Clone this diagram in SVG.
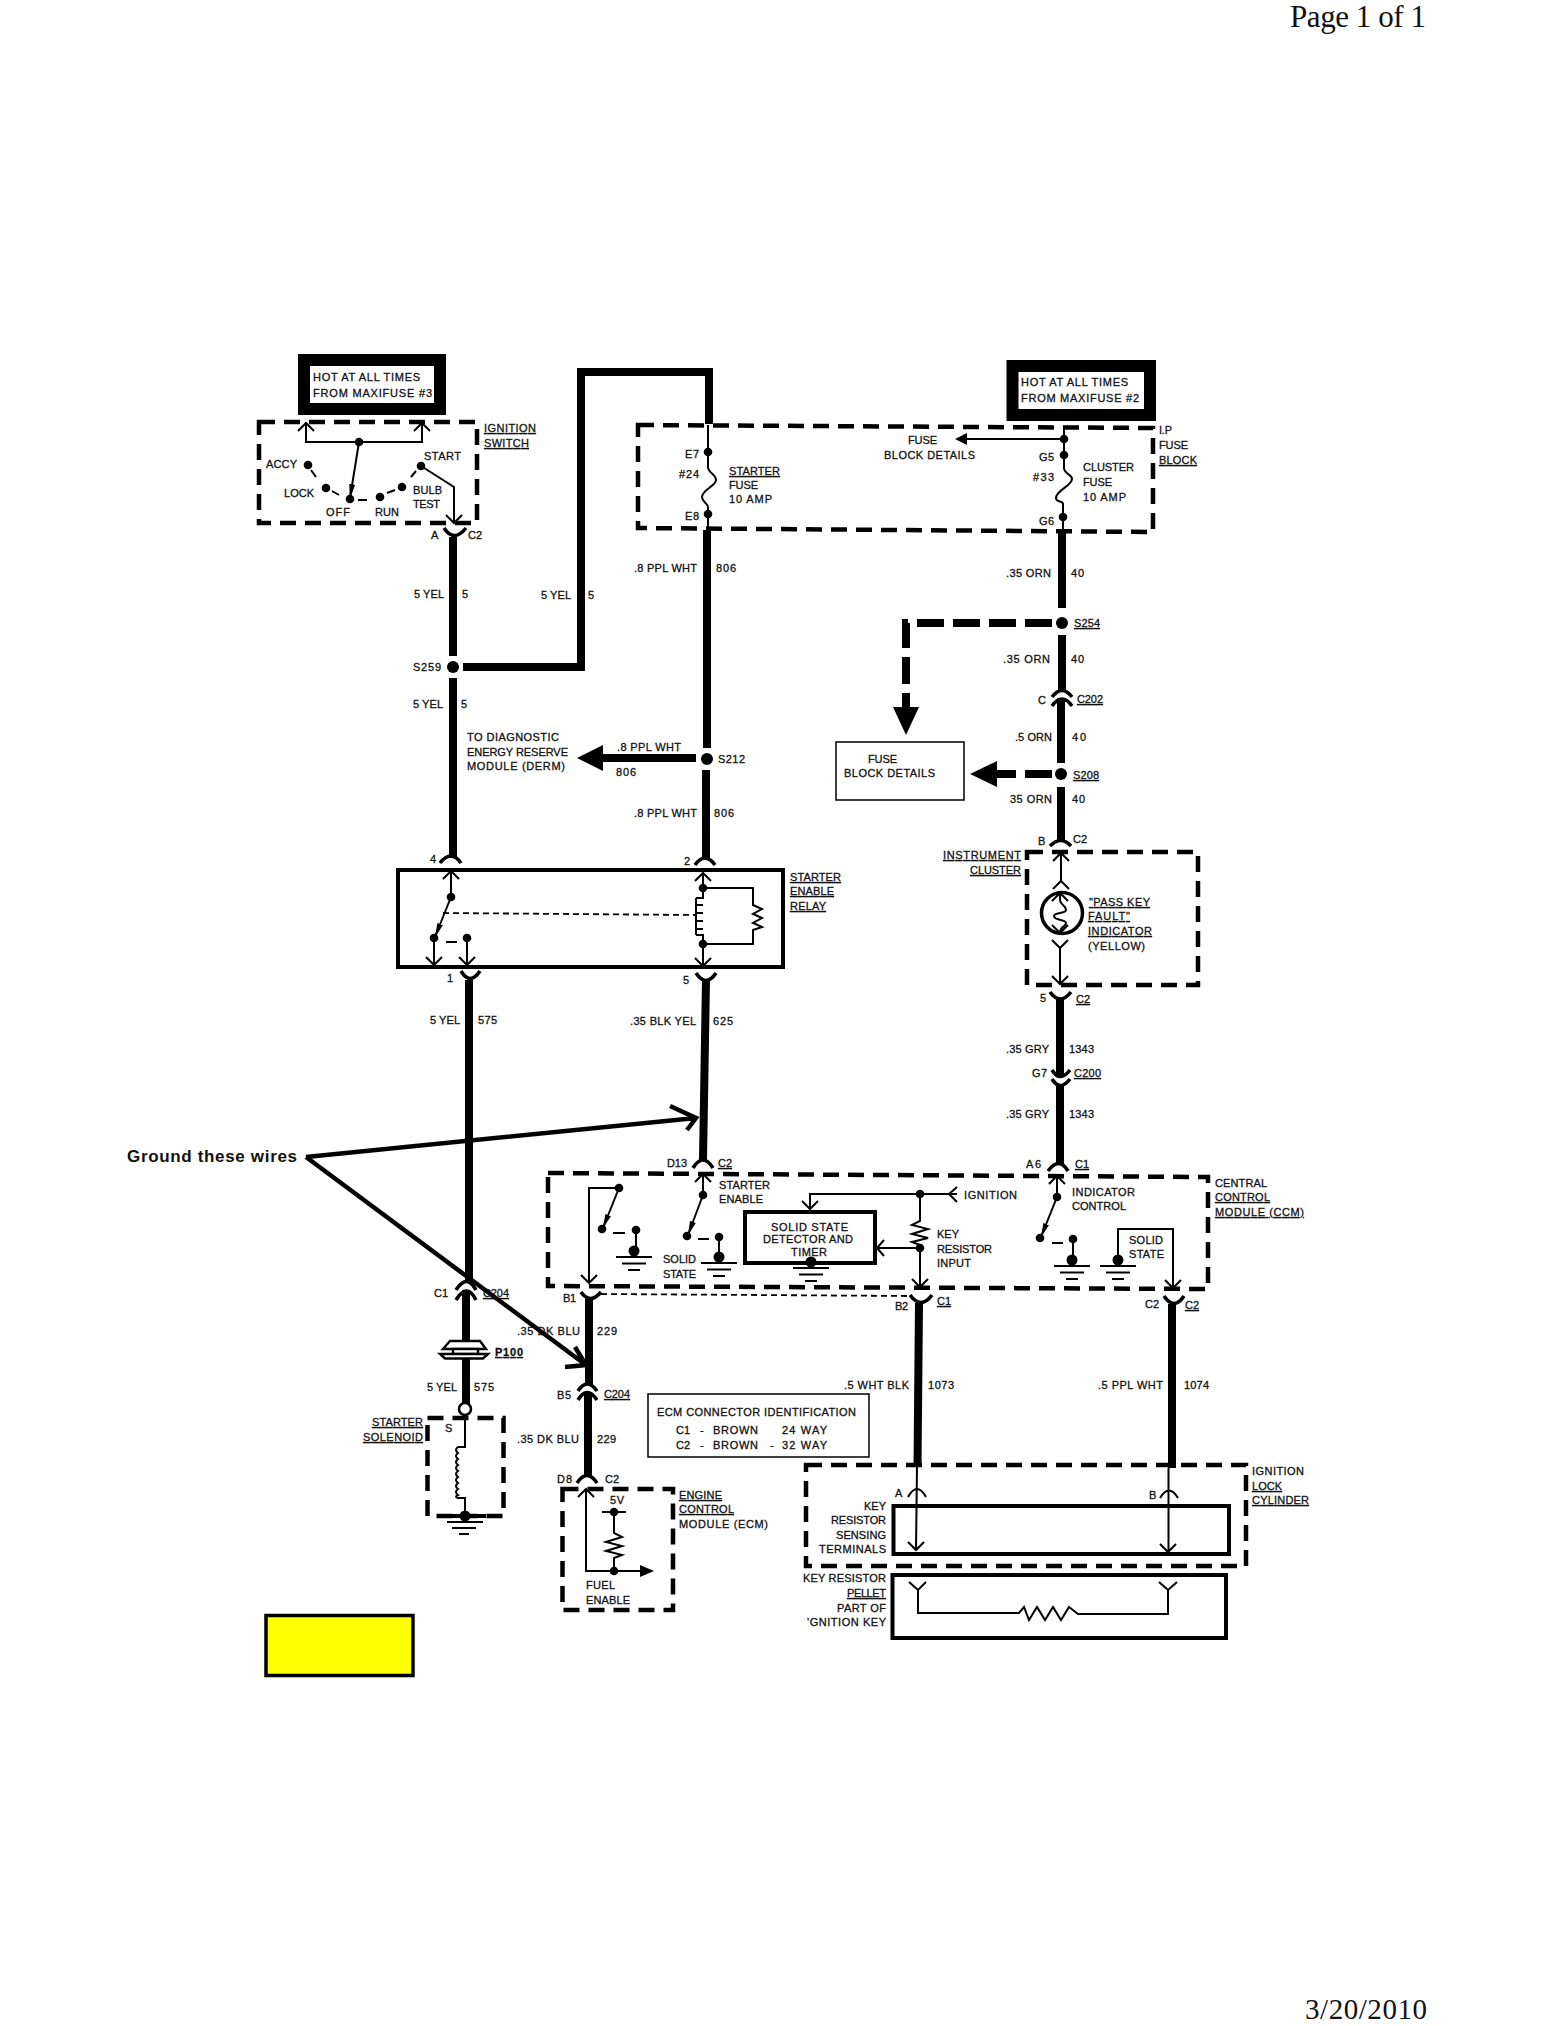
<svg xmlns="http://www.w3.org/2000/svg" xmlns:xlink="http://www.w3.org/1999/xlink" width="1567" height="2026" viewBox="0 0 1567 2026">
<style>
text{font-family:"Liberation Sans",Arial,sans-serif;font-size:11px;fill:#111;stroke:#111;stroke-width:.3}
.u{text-decoration:underline}
.times{font-family:"Liberation Serif","Times New Roman",serif;stroke:none}
.w,.t,.d,.c,.h,.a,.dt{fill:none;stroke:#000}
.w{stroke-width:8}
.t{stroke-width:2}
.d{stroke-width:4.5;stroke-dasharray:16 9}
.dt{stroke-width:1.8;stroke-dasharray:6 4}
.h{stroke-width:8;stroke-dasharray:27 9}
.c{stroke-width:3.6}
.a{stroke-width:4.5}
.box{fill:none;stroke:#000;stroke-width:4}
.hot{fill:#fff;stroke:#000;stroke-width:12}
.f{fill:#000;stroke:none}
.p{fill:#fff;stroke:#000;stroke-width:2.4}
</style>
<defs>
<path id="up" class="t" d="M-8 8L0 0L8 8"/>
<path id="dn" class="t" d="M-8 -8L0 0L8 -8"/>
<circle id="dot" class="f" r="4.3"/>
<g id="gnd"><circle class="f" cy="-6" r="5.500"/><path class="t" d="M-18 0H18M-12 6.500H12M-6 13H6"/></g>
<marker id="sw" markerUnits="userSpaceOnUse" markerWidth="16" markerHeight="12" refX="14" refY="5" orient="auto"><path class="f" d="M0 2L15 5L0 8Z"/></marker>
</defs>

<g id="header">
<text class="times" x="1290" y="27" style="font-size:31px" textLength="136">Page 1 of 1</text>
<text class="times" x="1305" y="2019" style="font-size:29px" textLength="122">3/20/2010</text>
</g>

<g id="connectors">
<path class="w" d="M453 537V656"/>
<path class="w" d="M453 678V858"/>
<path class="w" d="M463 667H581V372H709V424"/>
<path class="w" d="M707 530V748"/>
<path class="w" d="M706 770V858"/>
<path class="w" d="M696 758H600"/>
<path class="f" d="M577 758L603 745V771Z"/>
<path class="w" d="M1062 530V608"/>
<path class="w" d="M1062 635V692"/>
<path class="w" d="M1061 698V763"/>
<path class="w" d="M1061 787V842"/>
<path class="h" d="M1052 623H906V707"/>
<path class="f" d="M893 707H919L906 735Z"/>
<path class="h" d="M1052 774H995"/>
<path class="f" d="M970 774L997 761V787Z"/>
<path class="w" d="M469 980V1280"/>
<path class="w" d="M466 1290V1340"/>
<path class="w" d="M466 1358V1405"/>
<path class="w" d="M706 980L703 1160"/>
<path class="w" d="M1060 1000V1075"/>
<path class="w" d="M1060 1084V1164"/>
<path class="w" d="M589 1299V1385"/>
<path class="w" d="M588 1393V1476"/>
<path class="w" d="M919 1303L917.500 1466"/>
<path class="w" d="M1172 1304V1468"/>
<path class="dt" d="M601 1294L910 1296"/>
<path class="c" d="M444 528Q454 543 466 528"/>
<path class="c" d="M440 863Q451 849 461 863"/>
<path class="c" d="M695 865Q705 851 715 865"/>
<path class="c" d="M461 971Q470 986 480 971"/>
<path class="c" d="M696 973Q706 988 716 973"/>
<path class="c" d="M693 1168Q703 1152 713 1168"/>
<path class="c" d="M1052 697Q1062 684 1072 697"/>
<path class="c" d="M1052 706Q1062 692 1072 706"/>
<path class="c" d="M1050 846Q1061 835 1071 846"/>
<path class="c" d="M1050 992Q1060 1006 1071 992"/>
<path class="c" d="M1052 1070Q1060 1083 1070 1070"/>
<path class="c" d="M1052 1079Q1060 1092 1070 1079"/>
<path class="c" d="M1048 1171Q1059 1156 1068 1171"/>
<path class="c" d="M456 1290Q467 1273 476 1290"/>
<path class="c" d="M456 1300Q467 1282 476 1300"/>
<path class="c" d="M581 1292Q590 1305 601 1292"/>
<path class="c" d="M578 1391Q587 1377 597 1391"/>
<path class="c" d="M578 1400Q587 1385 597 1400"/>
<path class="c" d="M577 1483Q587 1468 597 1483"/>
<path class="c" d="M910 1295Q921 1310 932 1295"/>
<path class="c" d="M1164 1296Q1174 1311 1184 1296"/>
<path class="t" d="M908 1497Q917 1481 926 1497"/>
<path class="t" d="M1160 1498Q1169 1483 1178 1498"/>
<path class="a" d="M306 1157L696 1118M670 1106L696 1118L687 1130"/>
<path class="a" d="M306 1157L586 1365M575 1347L586 1365L565 1367"/>
</g>

<g id="hot-box-3"><rect class="hot" x="304" y="360" width="136" height="49"/>
<text x="313" y="381" textLength="107">HOT AT ALL TIMES</text><text x="313" y="397" textLength="119">FROM MAXIFUSE #3</text></g>

<g id="hot-box-2"><rect class="hot" x="1012.500" y="366" width="137.500" height="49"/>
<text x="1021" y="386" textLength="107">HOT AT ALL TIMES</text><text x="1021" y="402" textLength="118">FROM MAXIFUSE #2</text></g>

<g id="ignition-switch">
<rect class="d" x="259" y="422" width="218" height="101"/>
<use href="#up" x="306" y="423"/><use href="#up" x="422" y="423"/>
<path class="t" d="M306 423V442H422V423"/>
<use href="#dot" x="359" y="442"/>
<path class="t" d="M359 442L350 498" marker-end="url(#sw)"/>
<use href="#dot" x="308" y="465"/><use href="#dot" x="326" y="488"/><use href="#dot" x="350" y="499"/><use href="#dot" x="380" y="497"/><use href="#dot" x="402" y="487"/><use href="#dot" x="421" y="466"/>
<path class="t" d="M311 470L316 477M332 491L339 495M358 500H367M387 493L395 490M411 477L416 471"/>
<path class="t" d="M421 466L454 487V523"/><use href="#dn" x="454" y="523"/>
<text x="484" y="432" class="u" textLength="52">IGNITION</text><text x="484" y="447" class="u" textLength="45">SWITCH</text>
<text x="266" y="468" textLength="31">ACCY</text><text x="284" y="497" textLength="30">LOCK</text><text x="326" y="516" textLength="24">OFF</text><text x="375" y="516" textLength="24">RUN</text><text x="413" y="494" textLength="29">BULB</text><text x="413" y="508" textLength="27">TEST</text><text x="424" y="460" textLength="37">START</text>
<text x="431" y="539" textLength="8">A</text><text x="468" y="539" textLength="14">C2</text>
</g>

<g id="wire-labels-left">
<text x="414" y="598" textLength="30">5 YEL</text><text x="462" y="598">5</text>
<text x="541" y="599" textLength="30">5 YEL</text><text x="588" y="599">5</text>
<text x="413" y="671" textLength="28">S259</text>
<text x="413" y="708" textLength="30">5 YEL</text><text x="461" y="708">5</text>
<text x="467" y="741" textLength="92">TO DIAGNOSTIC</text><text x="467" y="756" textLength="101">ENERGY RESERVE</text><text x="467" y="770" textLength="98">MODULE (DERM)</text>
<text x="617" y="751" textLength="64">.8 PPL WHT</text><text x="616" y="776" textLength="20">806</text>
<text x="718" y="763" textLength="27">S212</text>
<text x="634" y="572" textLength="63">.8 PPL WHT</text><text x="716" y="572" textLength="20">806</text>
<text x="634" y="817" textLength="63">.8 PPL WHT</text><text x="714" y="817" textLength="20">806</text>
<circle id="s259" class="f" cx="453" cy="667" r="6"/>
<circle id="s212" class="f" cx="707" cy="759" r="6"/>
</g>

<g id="fuse-block">
<path class="d" d="M638 425L1153 428V532L638 528Z"/>
<path class="t" d="M708 425V452"/>
<use href="#dot" x="708" y="452"/><use href="#dot" x="708" y="514"/>
<path class="t" d="M708 452V467C708 473 716 474 716 480C716 486 702 490 702 497C702 503 708 502 708 508V514V528"/>
<text x="685" y="458" textLength="14">E7</text><text x="679" y="478" textLength="20">#24</text><text x="685" y="520" textLength="14">E8</text>
<text x="729" y="475" class="u" textLength="51">STARTER</text><text x="729" y="489" textLength="29">FUSE</text><text x="729" y="503" textLength="43">10 AMP</text>
<path class="t" d="M1064 427V455"/>
<use href="#dot" x="1064" y="439"/><use href="#dot" x="1064" y="455"/><use href="#dot" x="1063" y="517"/>
<path class="t" d="M1064 439H966"/><path class="f" d="M955 439L967 433V445Z"/>
<path class="t" d="M1064 455V468C1064 474 1072 474 1072 479C1072 486 1056 490 1056 498C1056 503 1063 500 1063 504V530"/>
<text x="908" y="444" textLength="29">FUSE</text><text x="884" y="459" textLength="91">BLOCK DETAILS</text>
<text x="1039" y="461" textLength="15">G5</text><text x="1033" y="481" textLength="21">#33</text><text x="1039" y="525" textLength="15">G6</text>
<text x="1083" y="471" textLength="51">CLUSTER</text><text x="1083" y="486" textLength="29">FUSE</text><text x="1083" y="501" textLength="43">10 AMP</text>
<text x="1159" y="434" textLength="13">I.P</text><text x="1159" y="449" textLength="29">FUSE</text><text x="1159" y="464" class="u" textLength="38">BLOCK</text>
</g>

<g id="wire-labels-right">
<text x="1006" y="577" textLength="45">.35 ORN</text><text x="1071" y="577" textLength="13">40</text>
<text x="1074" y="627" class="u" textLength="26">S254</text>
<text x="1003" y="663" textLength="47">.35 ORN</text><text x="1071" y="663" textLength="13">40</text>
<text x="1038" y="704">C</text><text x="1077" y="703" class="u" textLength="26">C202</text>
<text x="1015" y="741" textLength="37">.5 ORN</text><text x="1072" y="741" textLength="14">40</text>
<text x="1073" y="779" class="u" textLength="26">S208</text>
<text x="1010" y="803" textLength="42">35 ORN</text><text x="1072" y="803" textLength="13">40</text>
<circle id="s254" class="f" cx="1062" cy="623" r="6"/>
<circle id="s208" class="f" cx="1061" cy="774" r="6"/>
</g>

<g id="fuse-block-details"><rect x="836" y="742" width="128" height="58" fill="#fff" stroke="#000" stroke-width="1.500"/>
<text x="868" y="763" textLength="29">FUSE</text><text x="844" y="777" textLength="91">BLOCK DETAILS</text></g>

<g id="starter-enable-relay">
<rect class="box" x="398" y="870" width="385" height="97"/>
<use href="#up" x="451" y="871"/><path class="t" d="M451 871V897"/><use href="#dot" x="451" y="897"/>
<path class="t" d="M451 897L435 937" marker-end="url(#sw)"/>
<use href="#dot" x="434" y="938"/><path class="t" d="M434 938V965"/><use href="#dn" x="434" y="965"/>
<path class="t" d="M446 942H457"/>
<use href="#dot" x="467" y="938"/><path class="t" d="M467 938V965"/><use href="#dn" x="467" y="965"/>
<path class="dt" d="M443 913L695 915"/>
<use href="#up" x="703" y="873"/>
<path class="t" d="M703 873V898H696M696 898V935M696 905H703M696 913H703M696 921H703M696 929H703M696 935H703V966"/>
<use href="#dot" x="703" y="888"/><use href="#dot" x="703" y="944"/>
<use href="#dn" x="703" y="966"/>
<path class="t" d="M703 888H753V905L762 909L753 914L762 918L753 923L762 927L753 930V944H703"/>
<text x="790" y="881" class="u" textLength="51">STARTER</text><text x="790" y="895" class="u" textLength="44">ENABLE</text><text x="790" y="910" class="u" textLength="36">RELAY</text>
<text x="430" y="863">4</text><text x="684" y="865">2</text><text x="447" y="982">1</text><text x="683" y="984">5</text>
</g>

<g id="instrument-cluster">
<rect class="d" x="1027" y="852" width="171" height="133"/>
<use href="#up" x="1061" y="853"/><path class="t" d="M1061 853V881"/><use href="#up" x="1061" y="881"/>
<circle cx="1062" cy="913" r="20.500" fill="none" stroke="#000" stroke-width="3.500"/>
<path class="t" d="M1060 893V900C1060 905 1066 905 1066 910C1066 914 1054 912 1054 916C1054 921 1066 919 1066 923C1066 927 1060 926 1060 933M1052 901L1060 893L1068 901M1052 925L1060 933L1068 925"/>
<use href="#dn" x="1060" y="948"/><path class="t" d="M1060 948V984"/><use href="#dn" x="1060" y="984"/>
<text x="943" y="859" class="u" textLength="78">INSTRUMENT</text><text x="970" y="874" class="u" textLength="51">CLUSTER</text>
<text x="1089" y="906" class="u" textLength="61">"PASS KEY</text><text x="1088" y="920" class="u" textLength="42">FAULT"</text><text x="1088" y="935" class="u" textLength="64">INDICATOR</text><text x="1088" y="950" textLength="57">(YELLOW)</text>
<text x="1038" y="845">B</text><text x="1073" y="843" textLength="14">C2</text><text x="1040" y="1002">5</text><text x="1076" y="1003" class="u" textLength="14">C2</text>
<text x="1006" y="1053" textLength="43">.35 GRY</text><text x="1069" y="1053" textLength="25">1343</text>
<text x="1032" y="1077" textLength="15">G7</text><text x="1074" y="1077" class="u" textLength="27">C200</text>
<text x="1006" y="1118" textLength="43">.35 GRY</text><text x="1069" y="1118" textLength="25">1343</text>
<text x="1026" y="1168" textLength="15">A6</text><text x="1075" y="1168" class="u" textLength="14">C1</text>
</g>

<g id="ccm">
<path class="d" d="M548 1173L1208 1177V1289L548 1286Z"/>
<use href="#dot" x="619" y="1188"/>
<path class="t" d="M619 1188H589V1283"/><use href="#dn" x="589" y="1283"/>
<path class="t" d="M619 1188L603 1228" marker-end="url(#sw)"/><use href="#dot" x="602" y="1229"/>
<path class="t" d="M613 1233H625"/><use href="#dot" x="636" y="1230"/><path class="t" d="M636 1230V1250"/><use href="#gnd" x="634" y="1257"/>
<use href="#up" x="703" y="1174"/><path class="t" d="M703 1174V1195"/><use href="#dot" x="703" y="1195"/>
<path class="t" d="M703 1195L688 1235" marker-end="url(#sw)"/><use href="#dot" x="687" y="1236"/>
<path class="t" d="M698 1239H709"/><use href="#dot" x="719" y="1237"/><path class="t" d="M719 1237V1256"/><use href="#gnd" x="719" y="1263"/>
<rect class="box" x="745" y="1212" width="130" height="51"/>
<path class="t" d="M957 1194H810V1209"/><use href="#dn" x="810" y="1209"/>
<path class="t" d="M957 1187L949 1194L957 1202"/>
<use href="#dot" x="920" y="1194"/>
<path class="t" d="M920 1194V1221L912 1225L928 1229L912 1234L928 1238L912 1242L920 1245V1287"/><use href="#dot" x="920" y="1248"/><use href="#dn" x="920" y="1287"/>
<path class="t" d="M920 1248H877M884 1240L877 1248L884 1256"/>
<use href="#gnd" x="811" y="1268"/>
<use href="#up" x="1057" y="1176"/><path class="t" d="M1057 1176V1197"/><use href="#dot" x="1057" y="1197"/>
<path class="t" d="M1057 1197L1041 1237" marker-end="url(#sw)"/><use href="#dot" x="1040" y="1238"/>
<path class="t" d="M1052 1243H1063"/><use href="#dot" x="1073" y="1239"/><path class="t" d="M1073 1239V1258"/><use href="#gnd" x="1072" y="1266"/>
<path class="t" d="M1118 1260V1229H1173V1288"/><use href="#dn" x="1173" y="1288"/><use href="#gnd" x="1118" y="1266"/>
<text x="719" y="1189" textLength="51">STARTER</text><text x="719" y="1203" textLength="44">ENABLE</text>
<text x="663" y="1263" textLength="33">SOLID</text><text x="663" y="1278" textLength="33">STATE</text>
<text x="771" y="1231" textLength="77">SOLID  STATE</text><text x="763" y="1243" textLength="90">DETECTOR AND</text><text x="791" y="1256" textLength="36">TIMER</text>
<text x="964" y="1199" textLength="53">IGNITION</text><text x="937" y="1238" textLength="22">KEY</text><text x="937" y="1253" textLength="55">RESISTOR</text><text x="937" y="1267" textLength="34">INPUT</text>
<text x="1072" y="1196" textLength="63">INDICATOR</text><text x="1072" y="1210" textLength="54">CONTROL</text>
<text x="1129" y="1244" textLength="34">SOLID</text><text x="1129" y="1258" textLength="35">STATE</text>
<text x="1215" y="1187" textLength="52">CENTRAL</text><text x="1215" y="1201" class="u" textLength="55">CONTROL</text><text x="1215" y="1216" class="u" textLength="89">MODULE (CCM)</text>
<text x="667" y="1167" textLength="20">D13</text><text x="718" y="1167" class="u" textLength="14">C2</text>
<text x="563" y="1302" textLength="13">B1</text><text x="895" y="1310" textLength="13">B2</text><text x="937" y="1305" class="u" textLength="14">C1</text><text x="1145" y="1308" textLength="14">C2</text><text x="1185" y="1309" class="u" textLength="14">C2</text>
</g>

<g id="starter-solenoid">
<path class="p" d="M443 1349L450 1341H480L486 1349Z"/>
<rect class="p" x="453" y="1349" width="25" height="5"/>
<path class="p" d="M440 1354H488L483 1358.500H445Z"/>
<rect class="d" x="427.500" y="1418" width="76" height="98"/>
<circle cx="465" cy="1409" r="6" fill="#fff" stroke="#000" stroke-width="2.500"/>
<path class="t" d="M465 1415V1447H458Q454 1450 458 1453Q454 1456 458 1459Q454 1462 458 1465Q454 1468 458 1471Q454 1474 458 1477Q454 1480 458 1483Q454 1486 458 1489Q454 1492 458 1495Q454 1497 458 1498H465V1516"/>
<path class="f" d="M444 1514H486V1518H444Z"/>
<circle class="f" cx="465" cy="1516" r="5.500"/>
<path class="t" d="M447 1522H483M452 1528H476M459 1534H469"/>
<text x="445" y="1432">S</text>
<text x="372" y="1426" class="u" textLength="51">STARTER</text><text x="363" y="1441" class="u" textLength="60">SOLENOID</text>
<text x="434" y="1297" textLength="14">C1</text><text x="483" y="1297" class="u" textLength="26">C204</text>
<text x="495" y="1356" class="u" textLength="28" style="font-weight:bold">P100</text>
<text x="427" y="1391" textLength="30">5 YEL</text><text x="474" y="1391" textLength="20">575</text>
<text x="430" y="1024" textLength="30">5 YEL</text><text x="478" y="1024" textLength="19">575</text>
<text x="630" y="1025" textLength="66">.35 BLK YEL</text><text x="713" y="1025" textLength="20">625</text>
</g>

<g id="ecm">
<rect class="d" x="562.500" y="1489" width="110.500" height="121"/>
<use href="#up" x="586" y="1489"/>
<path class="t" d="M586 1489V1571H642"/><path class="f" d="M640 1565L654 1571L640 1577Z"/>
<path class="t" d="M602 1512H626M614 1512V1533L622 1537L606 1542L622 1546L606 1551L622 1555L614 1558V1571"/>
<use href="#dot" x="614" y="1512"/><use href="#dot" x="614" y="1571"/>
<text x="517" y="1335" textLength="63">.35 DK BLU</text><text x="597" y="1335" textLength="20">229</text>
<text x="557" y="1399" textLength="14">B5</text><text x="604" y="1398" class="u" textLength="26">C204</text>
<text x="517" y="1443" textLength="62">.35 DK BLU</text><text x="597" y="1443" textLength="19">229</text>
<text x="557" y="1483" textLength="15">D8</text><text x="605" y="1483" textLength="14">C2</text>
<text x="679" y="1499" class="u" textLength="43">ENGINE</text><text x="679" y="1513" class="u" textLength="55">CONTROL</text><text x="679" y="1528" textLength="89">MODULE (ECM)</text>
<text x="610" y="1504" textLength="14">5V</text>
<text x="586" y="1589" textLength="29">FUEL</text><text x="586" y="1604" textLength="44">ENABLE</text>
</g>

<g id="ecm-connector-id">
<rect x="648" y="1394" width="221" height="63" fill="#fff" stroke="#000" stroke-width="1.500"/>
<text x="657" y="1416" textLength="199">ECM CONNECTOR IDENTIFICATION</text>
<text x="676" y="1434" textLength="14">C1</text><text x="700" y="1434">-</text><text x="713" y="1434" textLength="45">BROWN</text><text x="782" y="1434" textLength="45">24 WAY</text>
<text x="676" y="1449" textLength="14">C2</text><text x="700" y="1449">-</text><text x="713" y="1449" textLength="45">BROWN</text><text x="770" y="1449">-</text><text x="782" y="1449" textLength="45">32 WAY</text>
</g>

<g id="ignition-lock-cylinder">
<rect class="d" x="806" y="1465" width="440" height="101"/>
<path class="t" d="M917 1466L916 1550"/>
<path class="t" d="M1168.500 1468V1552"/>
<rect class="box" x="893.500" y="1506" width="335.500" height="48"/>
<use href="#dn" x="916" y="1550"/><use href="#dn" x="1168" y="1552"/>
<text x="844" y="1389" textLength="65">.5 WHT BLK</text><text x="928" y="1389" textLength="26">1073</text>
<text x="1098" y="1389" textLength="65">.5 PPL WHT</text><text x="1184" y="1389" textLength="25">1074</text>
<text x="1252" y="1475" textLength="52">IGNITION</text><text x="1252" y="1490" class="u" textLength="30">LOCK</text><text x="1252" y="1504" class="u" textLength="57">CYLINDER</text>
<text x="895" y="1497">A</text><text x="1149" y="1499">B</text>
<text x="864" y="1510" textLength="22">KEY</text><text x="831" y="1524" textLength="55">RESISTOR</text><text x="836" y="1539" textLength="50">SENSING</text><text x="819" y="1553" textLength="67">TERMINALS</text>
</g>

<g id="key-resistor-pellet">
<rect class="box" x="892.500" y="1575" width="333.500" height="63"/>
<path class="t" d="M909 1582L918 1590L926 1582M918 1590V1613H1019L1024 1607L1029 1620L1037 1607L1045 1620L1053 1607L1061 1620L1069 1607L1078 1614H1168V1590M1159 1582L1168 1590L1177 1582"/>
<text x="803" y="1582" textLength="83">KEY RESISTOR</text><text x="847" y="1597" class="u" textLength="39">PELLET</text><text x="837" y="1612" textLength="49">PART OF</text><text x="807" y="1626" textLength="79">'GNITION KEY</text>
</g>

<g id="yellow-box"><rect x="266" y="1615.500" width="147" height="60" fill="#ff0" stroke="#000" stroke-width="3.500"/></g>

<g id="annotation"><text x="127" y="1162" textLength="170" style="font-size:17px;font-weight:bold;stroke:none">Ground these wires</text></g>
</svg>
